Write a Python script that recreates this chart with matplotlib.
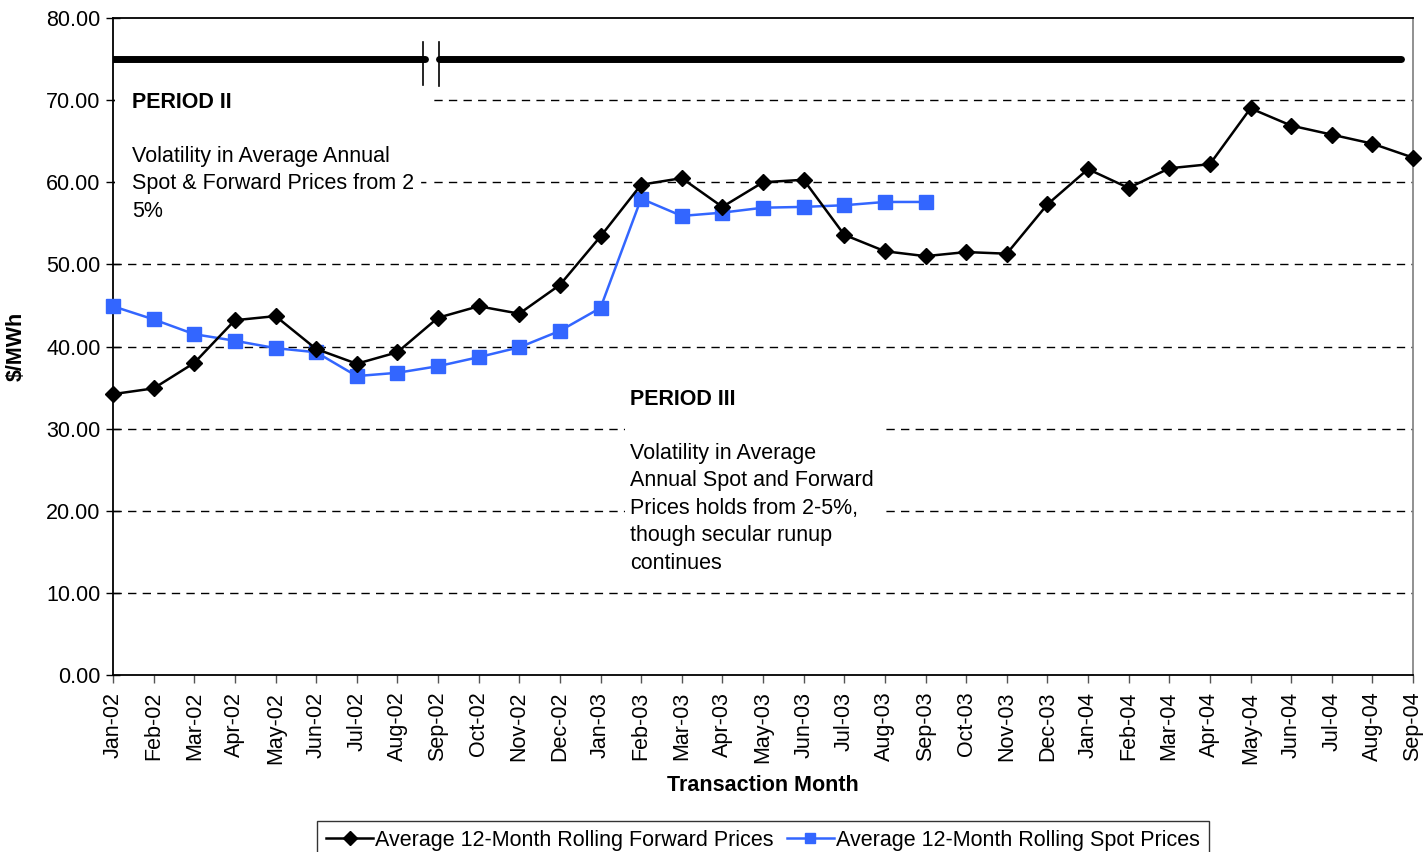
import matplotlib
matplotlib.use("Agg")
import matplotlib.pyplot as plt
from matplotlib.patches import Rectangle

plt.rcParams['font.family'] = ['Liberation Sans', 'DejaVu Sans']

months = ["Jan-02", "Feb-02", "Mar-02", "Apr-02", "May-02", "Jun-02", "Jul-02", "Aug-02",
          "Sep-02", "Oct-02", "Nov-02", "Dec-02", "Jan-03", "Feb-03", "Mar-03", "Apr-03",
          "May-03", "Jun-03", "Jul-03", "Aug-03", "Sep-03", "Oct-03", "Nov-03", "Dec-03",
          "Jan-04", "Feb-04", "Mar-04", "Apr-04", "May-04", "Jun-04", "Jul-04", "Aug-04",
          "Sep-04"]

forward = [34.2, 34.9, 38.0, 43.2, 43.7, 39.7, 37.9, 39.3, 43.5, 44.9, 44.0, 47.5,
           53.4, 59.7, 60.5, 57.0, 60.0, 60.3, 53.6, 51.6, 51.0, 51.5, 51.3, 57.3,
           61.6, 59.3, 61.7, 62.2, 69.0, 66.9, 65.8, 64.7, 63.0]

spot = [44.9, 43.3, 41.5, 40.7, 39.8, 39.3, 36.4, 36.8, 37.6, 38.7, 39.9, 41.9,
        44.7, 58.0, 55.9, 56.3, 56.9, 57.0, 57.2, 57.6, 57.6]

y_ticks = [0, 10, 20, 30, 40, 50, 60, 70, 80]

FS = 15.5

fig = plt.figure(figsize=(14.26, 8.52), dpi=100)
ax = fig.add_axes([113/1426, 1-675/852, 1300/1426, 657/852])

x = list(range(len(months)))
xs = list(range(len(spot)))

ax.set_xlim(0, len(months) - 1)
ax.set_ylim(0, 80)

# grid lines
for yv in y_ticks[1:-1]:
    ax.axhline(yv, color='black', lw=1.0, ls=(0, (6, 4.5)), zorder=1)

# text boxes (white background covering gridlines)
ax.add_patch(Rectangle((0.05, 53.0), 7.8, 18.8, facecolor='white', edgecolor='none', zorder=2))
ax.add_patch(Rectangle((12.6, 10.25), 6.3, 25.3, facecolor='white', edgecolor='none', zorder=2))

ax.text(0.47, 69.7, "PERIOD II", fontsize=FS, fontweight='bold', va='center', ha='left', zorder=3)
ax.text(0.47, 59.8, "Volatility in Average Annual\nSpot & Forward Prices from 2 -\n5%",
        fontsize=FS, va='center', ha='left', linespacing=1.4, zorder=3)
ax.text(12.72, 33.6, "PERIOD III", fontsize=FS, fontweight='bold', va='center', ha='left', zorder=3)
ax.text(12.72, 20.3, "Volatility in Average\nAnnual Spot and Forward\nPrices holds from 2-5%,\nthough secular runup\ncontinues",
        fontsize=FS, va='center', ha='left', linespacing=1.4, zorder=3)

# period bar
ax.plot([0, 7.68], [75, 75], color='black', lw=5, solid_capstyle='round', zorder=4)
ax.plot([8.02, 31.7], [75, 75], color='black', lw=5, solid_capstyle='round', zorder=4)
ax.plot([7.63, 7.63], [71.9, 77.1], color='black', lw=1.2, zorder=4)
ax.plot([8.02, 8.02], [71.7, 77.1], color='black', lw=1.2, zorder=4)

# series
ax.plot(x, forward, color='black', lw=1.8, marker='D', markersize=8, zorder=6, clip_on=False,
        label='Average 12-Month Rolling Forward Prices')
ax.plot(xs, spot, color='#3366FF', lw=1.8, marker='s', markersize=9.5, zorder=5, clip_on=False,
        label='Average 12-Month Rolling Spot Prices')

ax.set_yticks(y_ticks)
ax.set_yticklabels([f"{v:.2f}" for v in y_ticks], fontsize=FS)
ax.set_xticks(x)
ax.set_xticklabels(months, rotation=90, fontsize=FS)
ax.tick_params(axis='y', direction='inout', length=10, width=1, pad=4)
ax.tick_params(axis='x', direction='out', length=6, width=1, color='#555555', pad=6)

for side in ['left', 'bottom', 'top']:
    ax.spines[side].set_color('black')
    ax.spines[side].set_linewidth(1.3)
ax.spines['right'].set_color('#888888')
ax.spines['right'].set_linewidth(1.3)

ax.set_ylabel("$/MWh", fontsize=FS, fontweight='bold')
ax.yaxis.set_label_coords(-0.066, 0.5)
ax.set_xlabel("Transaction Month", fontsize=FS, fontweight='bold', labelpad=8)

leg = fig.legend(loc='upper center', bbox_to_anchor=(763/1426, 1-821/852), ncol=2,
                 fontsize=FS, frameon=True, fancybox=False, edgecolor='black',
                 handlelength=2.2, handletextpad=0.1, columnspacing=0.6, borderpad=0.4,
                 borderaxespad=0)
leg.get_frame().set_linewidth(1.0)
for h in leg.legend_handles:
    h.set_markersize(7)

fig.savefig("out.png", dpi=100, facecolor='white')
